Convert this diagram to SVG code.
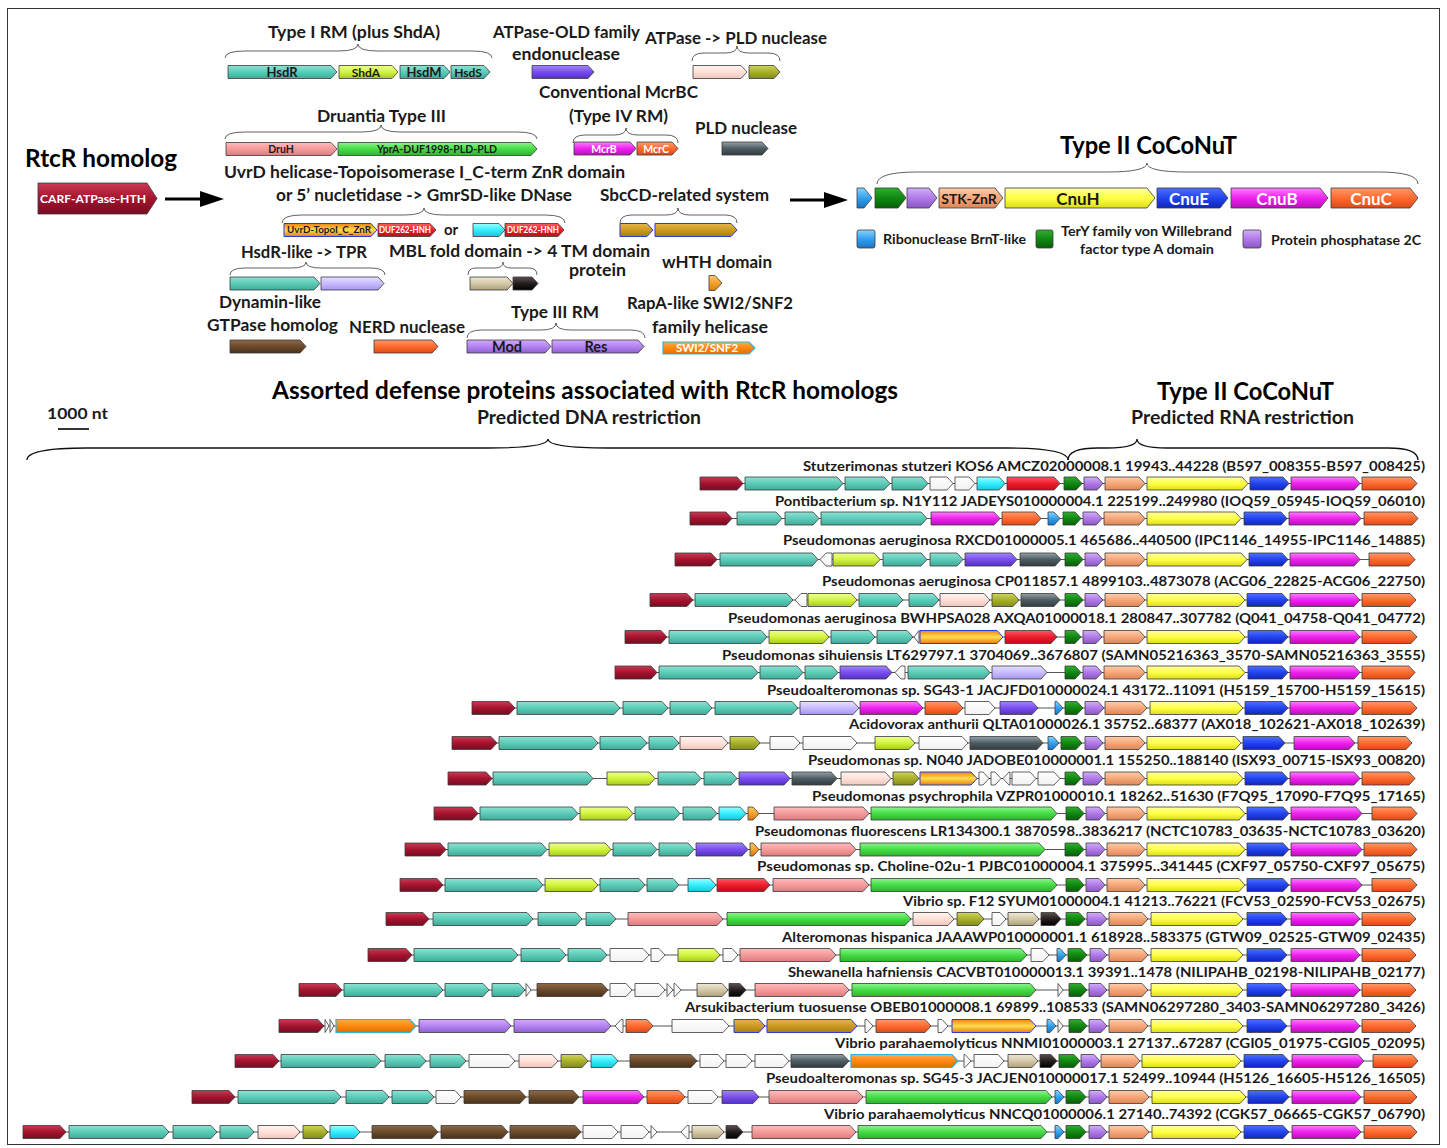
<svg xmlns="http://www.w3.org/2000/svg" width="1447" height="1148" viewBox="0 0 1447 1148">
<defs>
<linearGradient id="g-cr" x1="0" y1="0" x2="0" y2="1"><stop offset="0" stop-color="#cc3a55"/><stop offset=".5" stop-color="#a3142f"/><stop offset="1" stop-color="#780b20"/></linearGradient>
<linearGradient id="g-tl" x1="0" y1="0" x2="0" y2="1"><stop offset="0" stop-color="#8ee2d3"/><stop offset=".5" stop-color="#5ccbb8"/><stop offset="1" stop-color="#3fab99"/></linearGradient>
<linearGradient id="g-lm" x1="0" y1="0" x2="0" y2="1"><stop offset="0" stop-color="#eeff90"/><stop offset=".5" stop-color="#d2f53c"/><stop offset="1" stop-color="#a8c822"/></linearGradient>
<linearGradient id="g-pu" x1="0" y1="0" x2="0" y2="1"><stop offset="0" stop-color="#a286ff"/><stop offset=".5" stop-color="#7a4df0"/><stop offset="1" stop-color="#5530c4"/></linearGradient>
<linearGradient id="g-pp" x1="0" y1="0" x2="0" y2="1"><stop offset="0" stop-color="#fff4f0"/><stop offset=".5" stop-color="#ffe0d8"/><stop offset="1" stop-color="#efc6bd"/></linearGradient>
<linearGradient id="g-ol" x1="0" y1="0" x2="0" y2="1"><stop offset="0" stop-color="#cfd65a"/><stop offset=".5" stop-color="#a8b02a"/><stop offset="1" stop-color="#848c1c"/></linearGradient>
<linearGradient id="g-sa" x1="0" y1="0" x2="0" y2="1"><stop offset="0" stop-color="#ffbcbc"/><stop offset=".5" stop-color="#f59a9a"/><stop offset="1" stop-color="#dc7c7e"/></linearGradient>
<linearGradient id="g-gr" x1="0" y1="0" x2="0" y2="1"><stop offset="0" stop-color="#8cf58c"/><stop offset=".5" stop-color="#46dc46"/><stop offset="1" stop-color="#2cb42c"/></linearGradient>
<linearGradient id="g-mg" x1="0" y1="0" x2="0" y2="1"><stop offset="0" stop-color="#ff7cff"/><stop offset=".5" stop-color="#ee22ee"/><stop offset="1" stop-color="#bd0cbd"/></linearGradient>
<linearGradient id="g-or" x1="0" y1="0" x2="0" y2="1"><stop offset="0" stop-color="#ff9a6a"/><stop offset=".5" stop-color="#ff6a30"/><stop offset="1" stop-color="#dc4a16"/></linearGradient>
<linearGradient id="g-dg" x1="0" y1="0" x2="0" y2="1"><stop offset="0" stop-color="#93a3a9"/><stop offset=".5" stop-color="#4e5c62"/><stop offset="1" stop-color="#313c40"/></linearGradient>
<linearGradient id="g-uv" x1="0" y1="0" x2="0" y2="1"><stop offset="0" stop-color="#f08410"/><stop offset=".5" stop-color="#ffdc50"/><stop offset="1" stop-color="#ec7c0c"/></linearGradient>
<linearGradient id="g-rd" x1="0" y1="0" x2="0" y2="1"><stop offset="0" stop-color="#ff5a68"/><stop offset=".5" stop-color="#ee1c2c"/><stop offset="1" stop-color="#bc0e1c"/></linearGradient>
<linearGradient id="g-cy" x1="0" y1="0" x2="0" y2="1"><stop offset="0" stop-color="#9cffff"/><stop offset=".5" stop-color="#33eeff"/><stop offset="1" stop-color="#1cc4dc"/></linearGradient>
<linearGradient id="g-sb" x1="0" y1="0" x2="0" y2="1"><stop offset="0" stop-color="#e8b648"/><stop offset=".5" stop-color="#cc9a22"/><stop offset="1" stop-color="#a67e10"/></linearGradient>
<linearGradient id="g-lv" x1="0" y1="0" x2="0" y2="1"><stop offset="0" stop-color="#e6e0ff"/><stop offset=".5" stop-color="#c8bbff"/><stop offset="1" stop-color="#a696ec"/></linearGradient>
<linearGradient id="g-be" x1="0" y1="0" x2="0" y2="1"><stop offset="0" stop-color="#eee8d6"/><stop offset=".5" stop-color="#d4c8a8"/><stop offset="1" stop-color="#ada07c"/></linearGradient>
<linearGradient id="g-bk" x1="0" y1="0" x2="0" y2="1"><stop offset="0" stop-color="#5a5250"/><stop offset=".5" stop-color="#241e1c"/><stop offset="1" stop-color="#000"/></linearGradient>
<linearGradient id="g-wh" x1="0" y1="0" x2="0" y2="1"><stop offset="0" stop-color="#ffc868"/><stop offset=".5" stop-color="#f5a030"/><stop offset="1" stop-color="#d67e10"/></linearGradient>
<linearGradient id="g-bn" x1="0" y1="0" x2="0" y2="1"><stop offset="0" stop-color="#8e6a46"/><stop offset=".5" stop-color="#6b4a2c"/><stop offset="1" stop-color="#4a321a"/></linearGradient>
<linearGradient id="g-li" x1="0" y1="0" x2="0" y2="1"><stop offset="0" stop-color="#d4a8ff"/><stop offset=".5" stop-color="#b583f2"/><stop offset="1" stop-color="#9060d0"/></linearGradient>
<linearGradient id="g-sw" x1="0" y1="0" x2="0" y2="1"><stop offset="0" stop-color="#ffaa50"/><stop offset=".5" stop-color="#ff8811"/><stop offset="1" stop-color="#dc6e00"/></linearGradient>
<linearGradient id="g-bl" x1="0" y1="0" x2="0" y2="1"><stop offset="0" stop-color="#8ad2ff"/><stop offset=".5" stop-color="#33a0ee"/><stop offset="1" stop-color="#1876c4"/></linearGradient>
<linearGradient id="g-tg" x1="0" y1="0" x2="0" y2="1"><stop offset="0" stop-color="#2eb02e"/><stop offset=".5" stop-color="#118811"/><stop offset="1" stop-color="#066006"/></linearGradient>
<linearGradient id="g-pc" x1="0" y1="0" x2="0" y2="1"><stop offset="0" stop-color="#d2aefa"/><stop offset=".5" stop-color="#b07ae8"/><stop offset="1" stop-color="#8c56c6"/></linearGradient>
<linearGradient id="g-pe" x1="0" y1="0" x2="0" y2="1"><stop offset="0" stop-color="#ffcca8"/><stop offset=".5" stop-color="#f5a77a"/><stop offset="1" stop-color="#de8656"/></linearGradient>
<linearGradient id="g-ye" x1="0" y1="0" x2="0" y2="1"><stop offset="0" stop-color="#ffffa0"/><stop offset=".5" stop-color="#ffff44"/><stop offset="1" stop-color="#dcdc1c"/></linearGradient>
<linearGradient id="g-b2" x1="0" y1="0" x2="0" y2="1"><stop offset="0" stop-color="#5070ff"/><stop offset=".5" stop-color="#2244ee"/><stop offset="1" stop-color="#1026bc"/></linearGradient>
<linearGradient id="g-w" x1="0" y1="0" x2="0" y2="1"><stop offset="0" stop-color="#ffffff"/><stop offset="1" stop-color="#f2f2f2"/></linearGradient>
<marker id="ah" markerUnits="userSpaceOnUse" markerWidth="24" markerHeight="16" refX="14" refY="8" orient="auto"><path d="M0 0L24 8L0 16Z" fill="#000"/></marker>
<style>
.gn path,.gn rect{stroke:#3a3a3a;stroke-width:.8}
.cr{fill:url(#g-cr)}.tl{fill:url(#g-tl)}.lm{fill:url(#g-lm)}.pu{fill:url(#g-pu)}.pp{fill:url(#g-pp)}.ol{fill:url(#g-ol)}
.sa{fill:url(#g-sa)}.gr{fill:url(#g-gr)}.mg{fill:url(#g-mg)}.or{fill:url(#g-or)}.dg{fill:url(#g-dg)}.rd{fill:url(#g-rd)}
.cy{fill:url(#g-cy)}.lv{fill:url(#g-lv)}.be{fill:url(#g-be)}.bk{fill:url(#g-bk)}.wh{fill:url(#g-wh)}.bn{fill:url(#g-bn)}
.li{fill:url(#g-li)}.bl{fill:url(#g-bl)}.tg{fill:url(#g-tg)}.pc{fill:url(#g-pc)}.pe{fill:url(#g-pe)}.ye{fill:url(#g-ye)}
.b2{fill:url(#g-b2)}.w{fill:url(#g-w)}
.gn path.uv{fill:url(#g-uv);stroke:#2a3cd8;stroke-width:1}
.gn path.sb{fill:url(#g-sb);stroke:#2a3cd8;stroke-width:1}
.gn path.sw{fill:url(#g-sw);stroke:#2bb5d8;stroke-width:1.2}
.bb{stroke:#555;stroke-width:1.2}
.br{fill:none;stroke:#111;stroke-width:1.3}
text{font-family:Lato,"Open Sans","Liberation Sans",sans-serif;font-weight:700;fill:#1a1a1a}
.h{font-size:17px}
.big{font-size:24px;fill:#000}
.lab{font-size:14px}
.leg{font-size:14px}
.it{text-anchor:middle}
.wt{fill:#fff}
</style>
</defs>
<rect width="1447" height="1148" fill="#fff"/>
<rect x="7.5" y="8.5" width="1432" height="1136" fill="none" stroke="#333" stroke-width="1"/>

<g id="connectors">
<line x1="165" y1="199" x2="214" y2="199" stroke="#000" stroke-width="3" marker-end="url(#ah)"/>
<line x1="790" y1="200" x2="838" y2="200" stroke="#000" stroke-width="3" marker-end="url(#ah)"/>
</g>

<g id="rtcr" class="gn">
<text class="big" x="25" y="167" textLength="152" lengthAdjust="spacingAndGlyphs">RtcR homolog</text>
<path class="cr" d="M38 183H147L157 198.5L147 214H38Z"/>
<text class="it wt" x="93" y="203" font-size="12" textLength="106" lengthAdjust="spacingAndGlyphs">CARF-ATPase-HTH</text>
</g>

<g id="type1rm" class="gn">
<text class="h" x="268" y="38" textLength="172" lengthAdjust="spacingAndGlyphs">Type I RM (plus ShdA)</text>
<path class="br" d="M225 58Q225 51 245 51L338 51Q358 51 358 44Q358 51 378 51L472 51Q492 51 492 58"/>
<path class="tl" d="M228 65.5H331L337 72L331 78.5H228Z"/>
<path class="lm" d="M339 65.5H392L398 72L392 78.5H339Z"/>
<path class="tl" d="M400 65.5H444L450 72L444 78.5H400Z"/>
<path class="tl" d="M451 65.5H484L490 72L484 78.5H451Z"/>
<g font-size="13" fill="#16283a"><text class="it" x="282" y="77">HsdR</text><text class="it" x="366" y="77" font-size="12">ShdA</text><text class="it" x="424" y="77">HsdM</text><text class="it" x="468" y="77" font-size="12">HsdS</text></g>
</g>

<g id="old" class="gn">
<text class="h" x="493" y="38" textLength="147" lengthAdjust="spacingAndGlyphs">ATPase-OLD family</text>
<text class="h" x="512" y="60" textLength="108" lengthAdjust="spacingAndGlyphs">endonuclease</text>
<path class="pu" d="M532 65.5H588L594 72L588 78.5H532Z"/>
</g>

<g id="atpase-pld" class="gn">
<text class="h" x="645" y="44" textLength="182" lengthAdjust="spacingAndGlyphs">ATPase -&gt; PLD nuclease</text>
<path class="br" d="M692 61Q692 53 704 53L725 53Q737 53 737 46Q737 53 749 53L768 53Q780 53 780 61"/>
<path class="pp" d="M693 65.5H741L747 72L741 78.5H693Z"/>
<path class="ol" d="M749 65.5H774L780 72L774 78.5H749Z"/>
</g>

<g id="mcrbc" class="gn">
<text class="h" x="539" y="98" textLength="159" lengthAdjust="spacingAndGlyphs">Conventional McrBC</text>
<text class="h" x="569" y="122" textLength="99" lengthAdjust="spacingAndGlyphs">(Type IV RM)</text>
<path class="br" d="M573 143Q573 135 585 135L614 135Q626 135 626 128Q626 135 638 135L666 135Q678 135 678 143"/>
<path class="mg" d="M574 142H630L636 148.5L630 155H574Z"/>
<path class="or" d="M637 142H672L678 148.5L672 155H637Z"/>
<text class="it wt" x="604" y="152.5" font-size="10.5">McrB</text>
<text class="it wt" x="656" y="152.5" font-size="10.5">McrC</text>
</g>

<g id="pld" class="gn">
<text class="h" x="695" y="134" textLength="102" lengthAdjust="spacingAndGlyphs">PLD nuclease</text>
<path class="dg" d="M722 142H762L768 148.5L762 155H722Z"/>
</g>

<g id="druantia" class="gn">
<text class="h" x="317" y="122" textLength="129" lengthAdjust="spacingAndGlyphs">Druantia Type III</text>
<path class="br" d="M225 139Q225 132 245 132L361 132Q381 132 381 125Q381 132 401 132L517 132Q537 132 537 139"/>
<path class="sa" d="M226 142.5H331L337 149L331 155.5H226Z"/>
<path class="gr" d="M338 142.5H531L537 149L531 155.5H338Z"/>
<text class="it" x="281" y="153" font-size="10.5" fill="#5a1010">DruH</text>
<text class="it" x="437" y="153" font-size="10.5" fill="#0f3a0f">YprA-DUF1998-PLD-PLD</text>
</g>

<g id="uvrd" class="gn">
<text class="h" x="224" y="178" textLength="401" lengthAdjust="spacingAndGlyphs">UvrD helicase-Topoisomerase I_C-term ZnR domain</text>
<text class="h" x="276" y="201" textLength="296" lengthAdjust="spacingAndGlyphs">or 5’ nucletidase -&gt; GmrSD-like DNase</text>
<path class="br" d="M282 223Q282 215 302 215L404 215Q424 215 424 208Q424 215 444 215L545 215Q565 215 565 223"/>
<path class="uv" d="M284 223.5H371L377 230L371 236.5H284Z"/>
<path class="rd" d="M378 223.5H430L436 230L430 236.5H378Z"/>
<path class="cy" d="M473 223.5H499L505 230L499 236.5H473Z"/>
<path class="rd" d="M505 223.5H558L564 230L558 236.5H505Z"/>
<text class="it" x="329" y="233" font-size="8.5" fill="#3a2a00" textLength="84" lengthAdjust="spacingAndGlyphs">UvrD-TopoI_C_ZnR</text>
<text class="it wt" x="405" y="233" font-size="8.5" textLength="52" lengthAdjust="spacingAndGlyphs">DUF262-HNH</text>
<text class="it wt" x="533" y="233" font-size="8.5" textLength="52" lengthAdjust="spacingAndGlyphs">DUF262-HNH</text>
<text x="444" y="235" font-size="15">or</text>
</g>

<g id="sbcd" class="gn">
<text class="h" x="600" y="201" textLength="169" lengthAdjust="spacingAndGlyphs">SbcCD-related system</text>
<path class="br" d="M620 223Q620 215 632 215L666 215Q678 215 678 208Q678 215 690 215L725 215Q737 215 737 223"/>
<path class="sb" d="M620 223.5H647L653 230L647 236.5H620Z"/>
<path class="sb" d="M655 223.5H731L737 230L731 236.5H655Z"/>
</g>

<g id="hsdr-like" class="gn">
<text class="h" x="241" y="258" textLength="126" lengthAdjust="spacingAndGlyphs">HsdR-like -&gt; TPR</text>
<path class="br" d="M230 275Q230 268 245 268L291 268Q306 268 306 262Q306 268 321 268L370 268Q385 268 385 275"/>
<path class="tl" d="M230 277H314L320 283.5L314 290H230Z"/>
<path class="lv" d="M321 277H378L384 283.5L378 290H321Z"/>
</g>

<g id="mbl" class="gn">
<text class="h" x="389" y="257" textLength="261" lengthAdjust="spacingAndGlyphs">MBL fold domain -&gt; 4 TM domain</text>
<text class="h" x="569" y="276" font-size="16" textLength="57" lengthAdjust="spacingAndGlyphs">protein</text>
<path class="br" d="M468 275Q468 268 476 268L495 268Q503 268 503 262Q503 268 511 268L529 268Q537 268 537 275"/>
<path class="be" d="M470 277H507L513 283.5L507 290H470Z"/>
<path class="bk" d="M513 277H532L538 283.5L532 290H513Z"/>
</g>

<g id="whth" class="gn">
<text class="h" x="662" y="268" textLength="110" lengthAdjust="spacingAndGlyphs">wHTH domain</text>
<path class="wh" d="M709 275.5H715L722 283L715 290.5H709Z"/>
</g>

<g id="dynamin" class="gn">
<text class="h" x="219" y="308" textLength="102" lengthAdjust="spacingAndGlyphs">Dynamin-like</text>
<text class="h" x="207" y="331" textLength="131" lengthAdjust="spacingAndGlyphs">GTPase homolog</text>
<path class="bn" d="M230 340H300L306 346.5L300 353H230Z"/>
</g>

<g id="nerd" class="gn">
<text class="h" x="349" y="333" textLength="116" lengthAdjust="spacingAndGlyphs">NERD nuclease</text>
<path class="or" d="M374 340H432L438 346.5L432 353H374Z"/>
</g>

<g id="type3rm" class="gn">
<text class="h" x="511" y="318" textLength="88" lengthAdjust="spacingAndGlyphs">Type III RM</text>
<path class="br" d="M467 338Q467 330 482 330L541 330Q556 330 556 323Q556 330 571 330L630 330Q645 330 645 338"/>
<path class="li" d="M467 340H545L551 346.5L545 353H467Z"/>
<path class="li" d="M552 340H638L644 346.5L638 353H552Z"/>
<text class="it" x="507" y="352" font-size="14.5" fill="#1a1030">Mod</text>
<text class="it" x="596" y="352" font-size="14.5" fill="#1a1030">Res</text>
</g>

<g id="rapa" class="gn">
<text class="h" x="627" y="309" textLength="166" lengthAdjust="spacingAndGlyphs">RapA-like SWI2/SNF2</text>
<text class="h" x="652" y="333" textLength="116" lengthAdjust="spacingAndGlyphs">family helicase</text>
<path class="sw" d="M663 342H749L755 348L749 354H663Z"/>
<text class="it wt" x="707" y="352" font-size="11.5">SWI2/SNF2</text>
</g>

<g id="coconut-legend" class="gn">
<text class="big" x="1060" y="154" textLength="177" lengthAdjust="spacingAndGlyphs">Type II CoCoNuT</text>
<path class="br" d="M877 184Q877 172 917 172L1107 172Q1147 172 1147 163Q1147 172 1187 172L1378 172Q1418 172 1418 184"/>
<path class="bl" d="M857 188H864L872 198L864 208H857Z"/>
<path class="tg" d="M875 188H898L906 198L898 208H875Z"/>
<path class="pc" d="M907 188H929L937 198L929 208H907Z"/>
<path class="pe" d="M939 188H995L1003 198L995 208H939Z"/>
<path class="ye" d="M1005 188H1147L1155 198L1147 208H1005Z"/>
<path class="b2" d="M1157 188H1220L1228 198L1220 208H1157Z"/>
<path class="mg" d="M1231 188H1320L1328 198L1320 208H1231Z"/>
<path class="or" d="M1331 188H1410L1418 198L1410 208H1331Z"/>
<text class="it" x="969" y="203.5" font-size="14" fill="#2a1408">STK-ZnR</text>
<text class="it" x="1078" y="205" font-size="17" fill="#111">CnuH</text>
<text class="it wt" x="1189" y="205" font-size="17">CnuE</text>
<text class="it wt" x="1277" y="205" font-size="17">CnuB</text>
<text class="it wt" x="1371" y="205" font-size="17">CnuC</text>
<rect class="bl" x="857" y="230" width="18" height="18" rx="2"/>
<text class="leg" x="883" y="244" textLength="143" lengthAdjust="spacingAndGlyphs">Ribonuclease BrnT-like</text>
<rect class="tg" x="1036" y="230" width="17" height="18" rx="2"/>
<text class="leg" x="1061" y="236" textLength="171" lengthAdjust="spacingAndGlyphs">TerY family von Willebrand</text>
<text class="leg" x="1080" y="254" textLength="134" lengthAdjust="spacingAndGlyphs">factor type A domain</text>
<rect class="pc" x="1243" y="230" width="18" height="18" rx="2"/>
<text class="leg" x="1271" y="245" textLength="150" lengthAdjust="spacingAndGlyphs">Protein phosphatase 2C</text>
</g>

<g id="section-headers">
<text class="big" x="272" y="399" font-size="23" textLength="626" lengthAdjust="spacingAndGlyphs">Assorted defense proteins associated with RtcR homologs</text>
<text class="big" x="1157" y="400" font-size="23" textLength="177" lengthAdjust="spacingAndGlyphs">Type II CoCoNuT</text>
<text x="477" y="424" font-size="18" textLength="224" lengthAdjust="spacingAndGlyphs">Predicted DNA restriction</text>
<text x="1131" y="424" font-size="18" textLength="223" lengthAdjust="spacingAndGlyphs">Predicted RNA restriction</text>
<text x="47" y="419" font-size="16" textLength="61" lengthAdjust="spacingAndGlyphs">1000 nt</text>
<line x1="58" y1="429" x2="89" y2="429" stroke="#000" stroke-width="1.6"/>
<path class="br" d="M27 460Q27 448 87 448L488 448Q548 448 548 439Q548 448 608 448L1008 448Q1068 448 1068 460"/>
<path class="br" d="M1068 460Q1068 448 1098 448L1107 448Q1137 448 1137 439Q1137 448 1167 448L1388 448Q1418 448 1418 460"/>
</g>

<g id="row1" class="gn" transform="translate(0,483.5)">
<text class="lab" x="803" y="-12.5" textLength="622" lengthAdjust="spacingAndGlyphs">Stutzerimonas stutzeri KOS6 AMCZ02000008.1 19943..44228 (B597_008355-B597_008425)</text>
<line class="bb" x1="700" y1="0" x2="1417" y2="0"/>
<path class="cr" d="M700-6.5H737L743 0L737 6.5H700Z"/>
<path class="tl" d="M745-6.5H837L843 0L837 6.5H745Z"/>
<path class="tl" d="M845-6.5H884L890 0L884 6.5H845Z"/>
<path class="tl" d="M892-6.5H922L928 0L922 6.5H892Z"/>
<path class="w" d="M930-6.5H947L953 0L947 6.5H930Z"/>
<path class="w" d="M955-6.5H969L975 0L969 6.5H955Z"/>
<path class="cy" d="M977-6.5H999L1005 0L999 6.5H977Z"/>
<path class="rd" d="M1007-6.5H1054L1060 0L1054 6.5H1007Z"/>
<path class="tg" d="M1064-6.5H1076L1082 0L1076 6.5H1064Z"/>
<path class="pc" d="M1084-6.5H1097L1103 0L1097 6.5H1084Z"/>
<path class="pe" d="M1105-6.5H1139L1145 0L1139 6.5H1105Z"/>
<path class="ye" d="M1147-6.5H1242L1248 0L1242 6.5H1147Z"/>
<path class="b2" d="M1250-6.5H1283L1289 0L1283 6.5H1250Z"/>
<path class="mg" d="M1291-6.5H1354L1360 0L1354 6.5H1291Z"/>
<path class="or" d="M1362-6.5H1411L1417 0L1411 6.5H1362Z"/>
</g>

<g id="row2" class="gn" transform="translate(0,518.5)">
<text class="lab" x="775" y="-12.5" textLength="650" lengthAdjust="spacingAndGlyphs">Pontibacterium sp. N1Y112 JADEYS010000004.1 225199..249980 (IOQ59_05945-IOQ59_06010)</text>
<line class="bb" x1="690" y1="0" x2="1418" y2="0"/>
<path class="cr" d="M690-6.5H726L732 0L726 6.5H690Z"/>
<path class="tl" d="M737-6.5H776L782 0L776 6.5H737Z"/>
<path class="tl" d="M785-6.5H813L819 0L813 6.5H785Z"/>
<path class="tl" d="M821-6.5H921L927 0L921 6.5H821Z"/>
<path class="mg" d="M931-6.5H994L1000 0L994 6.5H931Z"/>
<path class="or" d="M1002-6.5H1035L1041 0L1035 6.5H1002Z"/>
<path class="bl" d="M1048-6.5H1054L1060 0L1054 6.5H1048Z"/>
<path class="tg" d="M1063-6.5H1075L1081 0L1075 6.5H1063Z"/>
<path class="pc" d="M1083-6.5H1096L1102 0L1096 6.5H1083Z"/>
<path class="pe" d="M1104-6.5H1139L1145 0L1139 6.5H1104Z"/>
<path class="ye" d="M1147-6.5H1235L1241 0L1235 6.5H1147Z"/>
<path class="b2" d="M1244-6.5H1281L1287 0L1281 6.5H1244Z"/>
<path class="mg" d="M1289-6.5H1355L1361 0L1355 6.5H1289Z"/>
<path class="or" d="M1364-6.5H1412L1418 0L1412 6.5H1364Z"/>
</g>

<g id="row3" class="gn" transform="translate(0,559.5)">
<text class="lab" x="783" y="-14.5" textLength="642" lengthAdjust="spacingAndGlyphs">Pseudomonas aeruginosa RXCD01000005.1 465686..440500 (IPC1146_14955-IPC1146_14885)</text>
<line class="bb" x1="675" y1="0" x2="1415" y2="0"/>
<path class="cr" d="M675-6.5H711L717 0L711 6.5H675Z"/>
<path class="tl" d="M720-6.5H812L818 0L812 6.5H720Z"/>
<path class="w" d="M832-6.5H826L820 0L826 6.5H832Z"/>
<path class="lm" d="M833-6.5H874L880 0L874 6.5H833Z"/>
<path class="tl" d="M883-6.5H921L927 0L921 6.5H883Z"/>
<path class="tl" d="M930-6.5H957L963 0L957 6.5H930Z"/>
<path class="pu" d="M965-6.5H1011L1017 0L1011 6.5H965Z"/>
<path class="dg" d="M1020-6.5H1055L1061 0L1055 6.5H1020Z"/>
<path class="tg" d="M1065-6.5H1077L1083 0L1077 6.5H1065Z"/>
<path class="pc" d="M1085-6.5H1097L1103 0L1097 6.5H1085Z"/>
<path class="pe" d="M1105-6.5H1139L1145 0L1139 6.5H1105Z"/>
<path class="ye" d="M1147-6.5H1241L1247 0L1241 6.5H1147Z"/>
<path class="b2" d="M1249-6.5H1282L1288 0L1282 6.5H1249Z"/>
<path class="mg" d="M1290-6.5H1354L1360 0L1354 6.5H1290Z"/>
<path class="or" d="M1369-6.5H1409L1415 0L1409 6.5H1369Z"/>
</g>

<g id="row4" class="gn" transform="translate(0,600)">
<text class="lab" x="822" y="-14" textLength="603" lengthAdjust="spacingAndGlyphs">Pseudomonas aeruginosa CP011857.1 4899103..4873078 (ACG06_22825-ACG06_22750)</text>
<line class="bb" x1="650" y1="0" x2="1416" y2="0"/>
<path class="cr" d="M650-6.5H687L693 0L687 6.5H650Z"/>
<path class="tl" d="M695-6.5H787L793 0L787 6.5H695Z"/>
<path class="w" d="M807-6.5H801L795 0L801 6.5H807Z"/>
<path class="lm" d="M808-6.5H851L857 0L851 6.5H808Z"/>
<path class="tl" d="M859-6.5H897L903 0L897 6.5H859Z"/>
<path class="tl" d="M909-6.5H933L939 0L933 6.5H909Z"/>
<path class="pp" d="M940-6.5H984L990 0L984 6.5H940Z"/>
<path class="ol" d="M992-6.5H1013L1019 0L1013 6.5H992Z"/>
<path class="dg" d="M1021-6.5H1054L1060 0L1054 6.5H1021Z"/>
<path class="tg" d="M1065-6.5H1077L1083 0L1077 6.5H1065Z"/>
<path class="pc" d="M1085-6.5H1097L1103 0L1097 6.5H1085Z"/>
<path class="pe" d="M1105-6.5H1139L1145 0L1139 6.5H1105Z"/>
<path class="ye" d="M1147-6.5H1239L1245 0L1239 6.5H1147Z"/>
<path class="b2" d="M1247-6.5H1282L1288 0L1282 6.5H1247Z"/>
<path class="mg" d="M1290-6.5H1354L1360 0L1354 6.5H1290Z"/>
<path class="or" d="M1362-6.5H1410L1416 0L1410 6.5H1362Z"/>
</g>

<g id="row5" class="gn" transform="translate(0,637)">
<text class="lab" x="728" y="-14" textLength="697" lengthAdjust="spacingAndGlyphs">Pseudomonas aeruginosa BWHPSA028 AXQA01000018.1 280847..307782 (Q041_04758-Q041_04772)</text>
<line class="bb" x1="625" y1="0" x2="1417" y2="0"/>
<path class="cr" d="M625-6.5H661L667 0L661 6.5H625Z"/>
<path class="tl" d="M669-6.5H761L767 0L761 6.5H669Z"/>
<path class="lm" d="M769-6.5H823L829 0L823 6.5H769Z"/>
<path class="tl" d="M831-6.5H869L875 0L869 6.5H831Z"/>
<path class="tl" d="M877-6.5H907L913 0L907 6.5H877Z"/>
<path class="w" d="M919-6.5H919L914 0L919 6.5H919Z"/>
<path class="uv" d="M920-6.5H997L1003 0L997 6.5H920Z"/>
<path class="rd" d="M1005-6.5H1051L1057 0L1051 6.5H1005Z"/>
<path class="tg" d="M1065-6.5H1075L1081 0L1075 6.5H1065Z"/>
<path class="pc" d="M1083-6.5H1096L1102 0L1096 6.5H1083Z"/>
<path class="pe" d="M1104-6.5H1139L1145 0L1139 6.5H1104Z"/>
<path class="ye" d="M1147-6.5H1239L1245 0L1239 6.5H1147Z"/>
<path class="b2" d="M1248-6.5H1282L1288 0L1282 6.5H1248Z"/>
<path class="mg" d="M1290-6.5H1354L1360 0L1354 6.5H1290Z"/>
<path class="or" d="M1362-6.5H1411L1417 0L1411 6.5H1362Z"/>
</g>

<g id="row6" class="gn" transform="translate(0,672.5)">
<text class="lab" x="722" y="-12.5" textLength="703" lengthAdjust="spacingAndGlyphs">Pseudomonas sihuiensis LT629797.1 3704069..3676807 (SAMN05216363_3570-SAMN05216363_3555)</text>
<line class="bb" x1="615" y1="0" x2="1415" y2="0"/>
<path class="cr" d="M615-6.5H651L657 0L651 6.5H615Z"/>
<path class="tl" d="M659-6.5H752L758 0L752 6.5H659Z"/>
<path class="tl" d="M760-6.5H797L803 0L797 6.5H760Z"/>
<path class="tl" d="M805-6.5H832L838 0L832 6.5H805Z"/>
<path class="pu" d="M840-6.5H886L892 0L886 6.5H840Z"/>
<path class="w" d="M905-6.5H901L895 0L901 6.5H905Z"/>
<path class="tl" d="M908-6.5H984L990 0L984 6.5H908Z"/>
<path class="lv" d="M992-6.5H1041L1047 0L1041 6.5H992Z"/>
<path class="tg" d="M1065-6.5H1075L1081 0L1075 6.5H1065Z"/>
<path class="pc" d="M1083-6.5H1096L1102 0L1096 6.5H1083Z"/>
<path class="pe" d="M1104-6.5H1139L1145 0L1139 6.5H1104Z"/>
<path class="ye" d="M1147-6.5H1239L1245 0L1239 6.5H1147Z"/>
<path class="b2" d="M1248-6.5H1282L1288 0L1282 6.5H1248Z"/>
<path class="mg" d="M1290-6.5H1354L1360 0L1354 6.5H1290Z"/>
<path class="or" d="M1362-6.5H1409L1415 0L1409 6.5H1362Z"/>
</g>

<g id="row7" class="gn" transform="translate(0,708)">
<text class="lab" x="767" y="-13" textLength="658" lengthAdjust="spacingAndGlyphs">Pseudoalteromonas sp. SG43-1 JACJFD010000024.1 43172..11091 (H5159_15700-H5159_15615)</text>
<line class="bb" x1="472" y1="0" x2="1417" y2="0"/>
<path class="cr" d="M472-6.5H509L515 0L509 6.5H472Z"/>
<path class="tl" d="M517-6.5H614L620 0L614 6.5H517Z"/>
<path class="tl" d="M623-6.5H662L668 0L662 6.5H623Z"/>
<path class="tl" d="M670-6.5H706L712 0L706 6.5H670Z"/>
<path class="tl" d="M715-6.5H792L798 0L792 6.5H715Z"/>
<path class="lv" d="M800-6.5H853L859 0L853 6.5H800Z"/>
<path class="mg" d="M860-6.5H917L923 0L917 6.5H860Z"/>
<path class="or" d="M925-6.5H957L963 0L957 6.5H925Z"/>
<path class="w" d="M965-6.5H989L995 0L989 6.5H965Z"/>
<path class="pu" d="M1000-6.5H1032L1038 0L1032 6.5H1000Z"/>
<path class="bl" d="M1055-6.5H1057L1063 0L1057 6.5H1055Z"/>
<path class="tg" d="M1065-6.5H1077L1083 0L1077 6.5H1065Z"/>
<path class="pc" d="M1085-6.5H1098L1104 0L1098 6.5H1085Z"/>
<path class="pe" d="M1105-6.5H1141L1147 0L1141 6.5H1105Z"/>
<path class="ye" d="M1150-6.5H1237L1243 0L1237 6.5H1150Z"/>
<path class="b2" d="M1245-6.5H1282L1288 0L1282 6.5H1245Z"/>
<path class="mg" d="M1290-6.5H1354L1360 0L1354 6.5H1290Z"/>
<path class="or" d="M1362-6.5H1411L1417 0L1411 6.5H1362Z"/>
</g>

<g id="row8" class="gn" transform="translate(0,743)">
<text class="lab" x="849" y="-14" textLength="576" lengthAdjust="spacingAndGlyphs">Acidovorax anthurii QLTA01000026.1 35752..68377 (AX018_102621-AX018_102639)</text>
<line class="bb" x1="452" y1="0" x2="1412" y2="0"/>
<path class="cr" d="M452-6.5H491L497 0L491 6.5H452Z"/>
<path class="tl" d="M499-6.5H592L598 0L592 6.5H499Z"/>
<path class="tl" d="M600-6.5H641L647 0L641 6.5H600Z"/>
<path class="tl" d="M649-6.5H673L679 0L673 6.5H649Z"/>
<path class="pp" d="M680-6.5H722L728 0L722 6.5H680Z"/>
<path class="ol" d="M730-6.5H754L760 0L754 6.5H730Z"/>
<path class="w" d="M770-6.5H794L800 0L794 6.5H770Z"/>
<path class="w" d="M803-6.5H851L857 0L851 6.5H803Z"/>
<path class="lm" d="M875-6.5H909L915 0L909 6.5H875Z"/>
<path class="w" d="M919-6.5H962L968 0L962 6.5H919Z"/>
<path class="dg" d="M970-6.5H1037L1043 0L1037 6.5H970Z"/>
<path class="bl" d="M1048-6.5H1053L1059 0L1053 6.5H1048Z"/>
<path class="tg" d="M1061-6.5H1076L1082 0L1076 6.5H1061Z"/>
<path class="pc" d="M1085-6.5H1097L1103 0L1097 6.5H1085Z"/>
<path class="pe" d="M1105-6.5H1139L1145 0L1139 6.5H1105Z"/>
<path class="ye" d="M1147-6.5H1235L1241 0L1235 6.5H1147Z"/>
<path class="b2" d="M1243-6.5H1279L1285 0L1279 6.5H1243Z"/>
<path class="mg" d="M1294-6.5H1349L1355 0L1349 6.5H1294Z"/>
<path class="or" d="M1358-6.5H1406L1412 0L1406 6.5H1358Z"/>
</g>

<g id="row9" class="gn" transform="translate(0,778.5)">
<text class="lab" x="808" y="-13.5" textLength="617" lengthAdjust="spacingAndGlyphs">Pseudomonas sp. N040 JADOBE010000001.1 155250..188140 (ISX93_00715-ISX93_00820)</text>
<line class="bb" x1="448" y1="0" x2="1415" y2="0"/>
<path class="cr" d="M448-6.5H486L492 0L486 6.5H448Z"/>
<path class="tl" d="M493-6.5H587L593 0L587 6.5H493Z"/>
<path class="lm" d="M607-6.5H649L655 0L649 6.5H607Z"/>
<path class="tl" d="M658-6.5H695L701 0L695 6.5H658Z"/>
<path class="tl" d="M704-6.5H731L737 0L731 6.5H704Z"/>
<path class="pu" d="M739-6.5H784L790 0L784 6.5H739Z"/>
<path class="dg" d="M792-6.5H831L837 0L831 6.5H792Z"/>
<path class="pp" d="M841-6.5H885L891 0L885 6.5H841Z"/>
<path class="ol" d="M893-6.5H913L919 0L913 6.5H893Z"/>
<path class="uv" d="M920-6.5H971L977 0L971 6.5H920Z"/>
<path class="w" d="M979-6.5H983L989 0L983 6.5H979Z"/>
<path class="w" d="M991-6.5H995L1001 0L995 6.5H991Z"/>
<path class="w" d="M1010-6.5H1009L1003 0L1009 6.5H1010Z"/>
<path class="w" d="M1012-6.5H1030L1036 0L1030 6.5H1012Z"/>
<path class="w" d="M1038-6.5H1054L1060 0L1054 6.5H1038Z"/>
<path class="tg" d="M1065-6.5H1075L1081 0L1075 6.5H1065Z"/>
<path class="pc" d="M1083-6.5H1097L1103 0L1097 6.5H1083Z"/>
<path class="pe" d="M1105-6.5H1139L1145 0L1139 6.5H1105Z"/>
<path class="ye" d="M1147-6.5H1237L1243 0L1237 6.5H1147Z"/>
<path class="b2" d="M1245-6.5H1282L1288 0L1282 6.5H1245Z"/>
<path class="mg" d="M1290-6.5H1354L1360 0L1354 6.5H1290Z"/>
<path class="or" d="M1362-6.5H1409L1415 0L1409 6.5H1362Z"/>
</g>

<g id="row10" class="gn" transform="translate(0,813.5)">
<text class="lab" x="812" y="-12.5" textLength="613" lengthAdjust="spacingAndGlyphs">Pseudomonas psychrophila VZPR01000010.1 18262..51630 (F7Q95_17090-F7Q95_17165)</text>
<line class="bb" x1="434" y1="0" x2="1417" y2="0"/>
<path class="cr" d="M434-6.5H472L478 0L472 6.5H434Z"/>
<path class="tl" d="M480-6.5H572L578 0L572 6.5H480Z"/>
<path class="lm" d="M580-6.5H627L633 0L627 6.5H580Z"/>
<path class="tl" d="M635-6.5H674L680 0L674 6.5H635Z"/>
<path class="tl" d="M683-6.5H711L717 0L711 6.5H683Z"/>
<path class="cy" d="M719-6.5H740L746 0L740 6.5H719Z"/>
<path class="wh" d="M748-6.5H753L759 0L753 6.5H748Z"/>
<path class="sa" d="M774-6.5H863L869 0L863 6.5H774Z"/>
<path class="gr" d="M871-6.5H1051L1057 0L1051 6.5H871Z"/>
<path class="tg" d="M1066-6.5H1078L1084 0L1078 6.5H1066Z"/>
<path class="pc" d="M1086-6.5H1099L1105 0L1099 6.5H1086Z"/>
<path class="pe" d="M1107-6.5H1139L1145 0L1139 6.5H1107Z"/>
<path class="ye" d="M1147-6.5H1239L1245 0L1239 6.5H1147Z"/>
<path class="b2" d="M1247-6.5H1283L1289 0L1283 6.5H1247Z"/>
<path class="mg" d="M1291-6.5H1356L1362 0L1356 6.5H1291Z"/>
<path class="or" d="M1372-6.5H1411L1417 0L1411 6.5H1372Z"/>
</g>

<g id="row11" class="gn" transform="translate(0,849.5)">
<text class="lab" x="755" y="-13.5" textLength="670" lengthAdjust="spacingAndGlyphs">Pseudomonas fluorescens LR134300.1 3870598..3836217 (NCTC10783_03635-NCTC10783_03620)</text>
<line class="bb" x1="405" y1="0" x2="1417" y2="0"/>
<path class="cr" d="M405-6.5H440L446 0L440 6.5H405Z"/>
<path class="tl" d="M448-6.5H541L547 0L541 6.5H448Z"/>
<path class="lm" d="M549-6.5H605L611 0L605 6.5H549Z"/>
<path class="tl" d="M613-6.5H651L657 0L651 6.5H613Z"/>
<path class="tl" d="M659-6.5H688L694 0L688 6.5H659Z"/>
<path class="pu" d="M696-6.5H742L748 0L742 6.5H696Z"/>
<path class="wh" d="M750-6.5H753L759 0L753 6.5H750Z"/>
<path class="sa" d="M761-6.5H850L856 0L850 6.5H761Z"/>
<path class="gr" d="M860-6.5H1039L1045 0L1039 6.5H860Z"/>
<path class="tg" d="M1065-6.5H1078L1084 0L1078 6.5H1065Z"/>
<path class="pc" d="M1086-6.5H1099L1105 0L1099 6.5H1086Z"/>
<path class="pe" d="M1107-6.5H1139L1145 0L1139 6.5H1107Z"/>
<path class="ye" d="M1147-6.5H1239L1245 0L1239 6.5H1147Z"/>
<path class="b2" d="M1247-6.5H1283L1289 0L1283 6.5H1247Z"/>
<path class="mg" d="M1291-6.5H1356L1362 0L1356 6.5H1291Z"/>
<path class="or" d="M1364-6.5H1411L1417 0L1411 6.5H1364Z"/>
</g>

<g id="row12" class="gn" transform="translate(0,885)">
<text class="lab" x="757" y="-14" textLength="668" lengthAdjust="spacingAndGlyphs">Pseudomonas sp. Choline-02u-1 PJBC01000004.1 375995..341445 (CXF97_05750-CXF97_05675)</text>
<line class="bb" x1="400" y1="0" x2="1417" y2="0"/>
<path class="cr" d="M400-6.5H437L443 0L437 6.5H400Z"/>
<path class="tl" d="M445-6.5H537L543 0L537 6.5H445Z"/>
<path class="lm" d="M545-6.5H592L598 0L592 6.5H545Z"/>
<path class="tl" d="M600-6.5H639L645 0L639 6.5H600Z"/>
<path class="tl" d="M647-6.5H673L679 0L673 6.5H647Z"/>
<path class="cy" d="M688-6.5H710L716 0L710 6.5H688Z"/>
<path class="rd" d="M717-6.5H764L770 0L764 6.5H717Z"/>
<path class="sa" d="M773-6.5H863L869 0L863 6.5H773Z"/>
<path class="gr" d="M871-6.5H1051L1057 0L1051 6.5H871Z"/>
<path class="tg" d="M1066-6.5H1078L1084 0L1078 6.5H1066Z"/>
<path class="pc" d="M1086-6.5H1099L1105 0L1099 6.5H1086Z"/>
<path class="pe" d="M1107-6.5H1139L1145 0L1139 6.5H1107Z"/>
<path class="ye" d="M1147-6.5H1239L1245 0L1239 6.5H1147Z"/>
<path class="b2" d="M1247-6.5H1283L1289 0L1283 6.5H1247Z"/>
<path class="mg" d="M1291-6.5H1356L1362 0L1356 6.5H1291Z"/>
<path class="or" d="M1372-6.5H1411L1417 0L1411 6.5H1372Z"/>
</g>

<g id="row13" class="gn" transform="translate(0,919)">
<text class="lab" x="903" y="-13" textLength="522" lengthAdjust="spacingAndGlyphs">Vibrio sp. F12 SYUM01000004.1 41213..76221 (FCV53_02590-FCV53_02675)</text>
<line class="bb" x1="386" y1="0" x2="1416" y2="0"/>
<path class="cr" d="M386-6.5H423L429 0L423 6.5H386Z"/>
<path class="tl" d="M433-6.5H527L533 0L527 6.5H433Z"/>
<path class="tl" d="M538-6.5H576L582 0L576 6.5H538Z"/>
<path class="tl" d="M586-6.5H610L616 0L610 6.5H586Z"/>
<path class="sa" d="M628-6.5H717L723 0L717 6.5H628Z"/>
<path class="gr" d="M727-6.5H905L911 0L905 6.5H727Z"/>
<path class="pp" d="M913-6.5H948L954 0L948 6.5H913Z"/>
<path class="ol" d="M957-6.5H978L984 0L978 6.5H957Z"/>
<path class="w" d="M992-6.5H1000L1006 0L1000 6.5H992Z"/>
<path class="be" d="M1008-6.5H1033L1039 0L1033 6.5H1008Z"/>
<path class="bk" d="M1041-6.5H1055L1061 0L1055 6.5H1041Z"/>
<path class="tg" d="M1066-6.5H1079L1085 0L1079 6.5H1066Z"/>
<path class="pc" d="M1087-6.5H1101L1107 0L1101 6.5H1087Z"/>
<path class="pe" d="M1109-6.5H1142L1148 0L1142 6.5H1109Z"/>
<path class="ye" d="M1151-6.5H1237L1243 0L1237 6.5H1151Z"/>
<path class="b2" d="M1247-6.5H1281L1287 0L1281 6.5H1247Z"/>
<path class="mg" d="M1291-6.5H1354L1360 0L1354 6.5H1291Z"/>
<path class="or" d="M1362-6.5H1410L1416 0L1410 6.5H1362Z"/>
</g>

<g id="row14" class="gn" transform="translate(0,955)">
<text class="lab" x="782" y="-13" textLength="643" lengthAdjust="spacingAndGlyphs">Alteromonas hispanica JAAAWP010000001.1 618928..583375 (GTW09_02525-GTW09_02435)</text>
<line class="bb" x1="368" y1="0" x2="1416" y2="0"/>
<path class="cr" d="M368-6.5H406L412 0L406 6.5H368Z"/>
<path class="tl" d="M414-6.5H512L518 0L512 6.5H414Z"/>
<path class="tl" d="M521-6.5H560L566 0L560 6.5H521Z"/>
<path class="tl" d="M568-6.5H601L607 0L601 6.5H568Z"/>
<path class="w" d="M610-6.5H643L649 0L643 6.5H610Z"/>
<path class="w" d="M651-6.5H659L665 0L659 6.5H651Z"/>
<path class="lm" d="M678-6.5H714L720 0L714 6.5H678Z"/>
<path class="w" d="M723-6.5H732L738 0L732 6.5H723Z"/>
<path class="sa" d="M740-6.5H830L836 0L830 6.5H740Z"/>
<path class="gr" d="M840-6.5H1021L1027 0L1021 6.5H840Z"/>
<path class="w" d="M1031-6.5H1043L1049 0L1043 6.5H1031Z"/>
<path class="bl" d="M1057-6.5H1060L1066 0L1060 6.5H1057Z"/>
<path class="tg" d="M1068-6.5H1081L1087 0L1081 6.5H1068Z"/>
<path class="pc" d="M1090-6.5H1101L1107 0L1101 6.5H1090Z"/>
<path class="pe" d="M1109-6.5H1142L1148 0L1142 6.5H1109Z"/>
<path class="ye" d="M1151-6.5H1237L1243 0L1237 6.5H1151Z"/>
<path class="b2" d="M1247-6.5H1281L1287 0L1281 6.5H1247Z"/>
<path class="mg" d="M1291-6.5H1354L1360 0L1354 6.5H1291Z"/>
<path class="or" d="M1362-6.5H1410L1416 0L1410 6.5H1362Z"/>
</g>

<g id="row15" class="gn" transform="translate(0,990)">
<text class="lab" x="788" y="-13" textLength="637" lengthAdjust="spacingAndGlyphs">Shewanella hafniensis CACVBT010000013.1 39391..1478 (NILIPAHB_02198-NILIPAHB_02177)</text>
<line class="bb" x1="299" y1="0" x2="1416" y2="0"/>
<path class="cr" d="M299-6.5H336L342 0L336 6.5H299Z"/>
<path class="tl" d="M344-6.5H437L443 0L437 6.5H344Z"/>
<path class="tl" d="M445-6.5H483L489 0L483 6.5H445Z"/>
<path class="tl" d="M492-6.5H519L525 0L519 6.5H492Z"/>
<path class="w" d="M526-6.5H526L531 0L526 6.5H526Z"/>
<path class="bn" d="M537-6.5H602L608 0L602 6.5H537Z"/>
<path class="w" d="M610-6.5H626L632 0L626 6.5H610Z"/>
<path class="w" d="M635-6.5H659L665 0L659 6.5H635Z"/>
<path class="w" d="M667-6.5H667L673 0L667 6.5H667Z"/>
<path class="w" d="M674-6.5H675L681 0L675 6.5H674Z"/>
<path class="be" d="M697-6.5H722L728 0L722 6.5H697Z"/>
<path class="bk" d="M729-6.5H740L746 0L740 6.5H729Z"/>
<path class="sa" d="M755-6.5H843L849 0L843 6.5H755Z"/>
<path class="gr" d="M852-6.5H1030L1036 0L1030 6.5H852Z"/>
<path class="w" d="M1058-6.5H1058L1063 0L1058 6.5H1058Z"/>
<path class="tg" d="M1069-6.5H1081L1087 0L1081 6.5H1069Z"/>
<path class="pc" d="M1089-6.5H1101L1107 0L1101 6.5H1089Z"/>
<path class="pe" d="M1109-6.5H1142L1148 0L1142 6.5H1109Z"/>
<path class="ye" d="M1151-6.5H1237L1243 0L1237 6.5H1151Z"/>
<path class="b2" d="M1247-6.5H1281L1287 0L1281 6.5H1247Z"/>
<path class="mg" d="M1291-6.5H1354L1360 0L1354 6.5H1291Z"/>
<path class="or" d="M1362-6.5H1410L1416 0L1410 6.5H1362Z"/>
</g>

<g id="row16" class="gn" transform="translate(0,1026)">
<text class="lab" x="685" y="-14" textLength="740" lengthAdjust="spacingAndGlyphs">Arsukibacterium tuosuense OBEB01000008.1 69899..108533 (SAMN06297280_3403-SAMN06297280_3426)</text>
<line class="bb" x1="279" y1="0" x2="1416" y2="0"/>
<path class="cr" d="M279-6.5H318L324 0L318 6.5H279Z"/>
<path class="w" d="M325-6.5H325L329 0L325 6.5H325Z"/>
<path class="w" d="M330-6.5H330L334 0L330 6.5H330Z"/>
<path class="sw" d="M336-6.5H410L416 0L410 6.5H336Z"/>
<path class="li" d="M419-6.5H505L511 0L505 6.5H419Z"/>
<path class="li" d="M514-6.5H605L611 0L605 6.5H514Z"/>
<path class="w" d="M623-6.5H621L615 0L621 6.5H623Z"/>
<path class="or" d="M626-6.5H647L653 0L647 6.5H626Z"/>
<path class="w" d="M672-6.5H723L729 0L723 6.5H672Z"/>
<path class="sb" d="M734-6.5H759L765 0L759 6.5H734Z"/>
<path class="sb" d="M767-6.5H851L857 0L851 6.5H767Z"/>
<path class="w" d="M865-6.5H867L873 0L867 6.5H865Z"/>
<path class="or" d="M876-6.5H925L931 0L925 6.5H876Z"/>
<path class="w" d="M938-6.5H942L948 0L942 6.5H938Z"/>
<path class="uv" d="M952-6.5H1030L1036 0L1030 6.5H952Z"/>
<path class="bl" d="M1047-6.5H1050L1056 0L1050 6.5H1047Z"/>
<path class="w" d="M1058-6.5H1058L1063 0L1058 6.5H1058Z"/>
<path class="tg" d="M1069-6.5H1081L1087 0L1081 6.5H1069Z"/>
<path class="pc" d="M1089-6.5H1101L1107 0L1101 6.5H1089Z"/>
<path class="pe" d="M1109-6.5H1142L1148 0L1142 6.5H1109Z"/>
<path class="ye" d="M1151-6.5H1237L1243 0L1237 6.5H1151Z"/>
<path class="b2" d="M1247-6.5H1281L1287 0L1281 6.5H1247Z"/>
<path class="mg" d="M1291-6.5H1354L1360 0L1354 6.5H1291Z"/>
<path class="or" d="M1362-6.5H1410L1416 0L1410 6.5H1362Z"/>
</g>

<g id="row17" class="gn" transform="translate(0,1061)">
<text class="lab" x="835" y="-13" textLength="590" lengthAdjust="spacingAndGlyphs">Vibrio parahaemolyticus NNMI01000003.1 27137..67287 (CGI05_01975-CGI05_02095)</text>
<line class="bb" x1="235" y1="0" x2="1418" y2="0"/>
<path class="cr" d="M235-6.5H273L279 0L273 6.5H235Z"/>
<path class="tl" d="M281-6.5H375L381 0L375 6.5H281Z"/>
<path class="tl" d="M385-6.5H420L426 0L420 6.5H385Z"/>
<path class="tl" d="M430-6.5H460L466 0L460 6.5H430Z"/>
<path class="w" d="M469-6.5H509L515 0L509 6.5H469Z"/>
<path class="pp" d="M519-6.5H552L558 0L552 6.5H519Z"/>
<path class="ol" d="M561-6.5H582L588 0L582 6.5H561Z"/>
<path class="cy" d="M591-6.5H612L618 0L612 6.5H591Z"/>
<path class="bn" d="M630-6.5H691L697 0L691 6.5H630Z"/>
<path class="w" d="M700-6.5H718L724 0L718 6.5H700Z"/>
<path class="w" d="M726-6.5H746L752 0L746 6.5H726Z"/>
<path class="w" d="M755-6.5H783L789 0L783 6.5H755Z"/>
<path class="dg" d="M791-6.5H843L849 0L843 6.5H791Z"/>
<path class="sw" d="M851-6.5H952L958 0L952 6.5H851Z"/>
<path class="w" d="M964-6.5H965L971 0L965 6.5H964Z"/>
<path class="w" d="M974-6.5H998L1004 0L998 6.5H974Z"/>
<path class="be" d="M1008-6.5H1032L1038 0L1032 6.5H1008Z"/>
<path class="bk" d="M1040-6.5H1051L1057 0L1051 6.5H1040Z"/>
<path class="tg" d="M1059-6.5H1074L1080 0L1074 6.5H1059Z"/>
<path class="pc" d="M1081-6.5H1094L1100 0L1094 6.5H1081Z"/>
<path class="pe" d="M1101-6.5H1134L1140 0L1134 6.5H1101Z"/>
<path class="ye" d="M1142-6.5H1235L1241 0L1235 6.5H1142Z"/>
<path class="b2" d="M1244-6.5H1283L1289 0L1283 6.5H1244Z"/>
<path class="mg" d="M1292-6.5H1358L1364 0L1358 6.5H1292Z"/>
<path class="or" d="M1373-6.5H1412L1418 0L1412 6.5H1373Z"/>
</g>

<g id="row18" class="gn" transform="translate(0,1097)">
<text class="lab" x="766" y="-14" textLength="659" lengthAdjust="spacingAndGlyphs">Pseudoalteromonas sp. SG45-3 JACJEN010000017.1 52499..10944 (H5126_16605-H5126_16505)</text>
<line class="bb" x1="192" y1="0" x2="1417" y2="0"/>
<path class="cr" d="M192-6.5H229L235 0L229 6.5H192Z"/>
<path class="tl" d="M238-6.5H335L341 0L335 6.5H238Z"/>
<path class="tl" d="M346-6.5H383L389 0L383 6.5H346Z"/>
<path class="tl" d="M392-6.5H428L434 0L428 6.5H392Z"/>
<path class="w" d="M436-6.5H455L461 0L455 6.5H436Z"/>
<path class="bn" d="M464-6.5H520L526 0L520 6.5H464Z"/>
<path class="bn" d="M529-6.5H573L579 0L573 6.5H529Z"/>
<path class="mg" d="M583-6.5H638L644 0L638 6.5H583Z"/>
<path class="or" d="M647-6.5H679L685 0L679 6.5H647Z"/>
<path class="w" d="M688-6.5H712L718 0L712 6.5H688Z"/>
<path class="pu" d="M722-6.5H753L759 0L753 6.5H722Z"/>
<path class="sa" d="M769-6.5H857L863 0L857 6.5H769Z"/>
<path class="gr" d="M866-6.5H1046L1052 0L1046 6.5H866Z"/>
<path class="bl" d="M1055-6.5H1058L1064 0L1058 6.5H1055Z"/>
<path class="tg" d="M1066-6.5H1080L1086 0L1080 6.5H1066Z"/>
<path class="pc" d="M1089-6.5H1101L1107 0L1101 6.5H1089Z"/>
<path class="pe" d="M1109-6.5H1143L1149 0L1143 6.5H1109Z"/>
<path class="ye" d="M1152-6.5H1240L1246 0L1240 6.5H1152Z"/>
<path class="b2" d="M1248-6.5H1283L1289 0L1283 6.5H1248Z"/>
<path class="mg" d="M1292-6.5H1355L1361 0L1355 6.5H1292Z"/>
<path class="or" d="M1364-6.5H1411L1417 0L1411 6.5H1364Z"/>
</g>

<g id="row19" class="gn" transform="translate(0,1132)">
<text class="lab" x="824" y="-13" textLength="601" lengthAdjust="spacingAndGlyphs">Vibrio parahaemolyticus NNCQ01000006.1 27140..74392 (CGK57_06665-CGK57_06790)</text>
<line class="bb" x1="23" y1="0" x2="1417" y2="0"/>
<path class="cr" d="M23-6.5H60L66 0L60 6.5H23Z"/>
<path class="tl" d="M69-6.5H163L169 0L163 6.5H69Z"/>
<path class="tl" d="M173-6.5H211L217 0L211 6.5H173Z"/>
<path class="tl" d="M220-6.5H248L254 0L248 6.5H220Z"/>
<path class="pp" d="M258-6.5H294L300 0L294 6.5H258Z"/>
<path class="ol" d="M303-6.5H322L328 0L322 6.5H303Z"/>
<path class="cy" d="M330-6.5H354L360 0L354 6.5H330Z"/>
<path class="bn" d="M372-6.5H432L438 0L432 6.5H372Z"/>
<path class="bn" d="M441-6.5H502L508 0L502 6.5H441Z"/>
<path class="bn" d="M510-6.5H575L581 0L575 6.5H510Z"/>
<path class="w" d="M583-6.5H612L618 0L612 6.5H583Z"/>
<path class="w" d="M621-6.5H643L649 0L643 6.5H621Z"/>
<path class="w" d="M651-6.5H651L657 0L651 6.5H651Z"/>
<path class="w" d="M689-6.5H687L681 0L687 6.5H689Z"/>
<path class="be" d="M692-6.5H718L724 0L718 6.5H692Z"/>
<path class="bk" d="M726-6.5H737L743 0L737 6.5H726Z"/>
<path class="sa" d="M752-6.5H850L856 0L850 6.5H752Z"/>
<path class="gr" d="M858-6.5H1041L1047 0L1041 6.5H858Z"/>
<path class="bl" d="M1055-6.5H1058L1064 0L1058 6.5H1055Z"/>
<path class="tg" d="M1066-6.5H1080L1086 0L1080 6.5H1066Z"/>
<path class="pc" d="M1089-6.5H1101L1107 0L1101 6.5H1089Z"/>
<path class="pe" d="M1109-6.5H1143L1149 0L1143 6.5H1109Z"/>
<path class="ye" d="M1152-6.5H1235L1241 0L1235 6.5H1152Z"/>
<path class="b2" d="M1244-6.5H1283L1289 0L1283 6.5H1244Z"/>
<path class="mg" d="M1292-6.5H1355L1361 0L1355 6.5H1292Z"/>
<path class="or" d="M1364-6.5H1411L1417 0L1411 6.5H1364Z"/>
</g>
</svg>
